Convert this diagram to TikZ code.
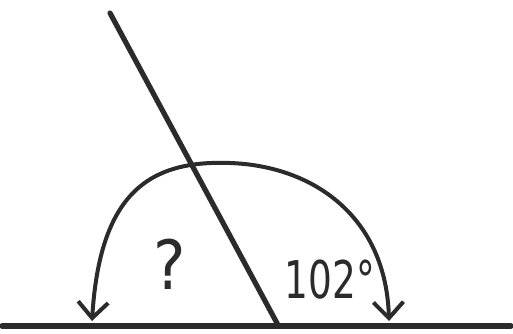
\documentclass[tikz,border=0pt]{standalone}
\usepackage{fontspec}
\setmainfont{DejaVu Sans}
\usetikzlibrary{arrows.meta}
\definecolor{pencil}{HTML}{2B2B2B}
\tikzset{
  ln/.style={pencil, line width=2.6pt, line cap=round},
  sw/.style={pencil, line width=2pt, {Straight Barb[length=8pt, width=15pt, line width=2pt]}-{Straight Barb[length=8pt, width=15pt, line width=2pt]}},
  lbl/.style={text=pencil, inner sep=0pt},
}
\begin{document}
\begin{tikzpicture}[x=0.5pt, y=-0.5pt]
    \useasboundingbox (0,0) rectangle (513,333);
    \coordinate (l) at (2,326);
    \coordinate (r) at (511,326);
    \coordinate (tp) at (110,13);
    \coordinate (ft) at (278,325);
    \coordinate (al) at (92,321);
    \coordinate (ar) at (389,321);
    \draw[ln] (l) -- (r);
    \draw[ln] (tp) -- (ft);
    \draw[sw] (al) .. controls (100,192) and (150,160) .. (230,163)
                   .. controls (315,166) and (386,218) .. (ar);
    \node[lbl, font=\fontsize{34}{34}\selectfont, xscale=0.9] (q) at (170,264) {?};
    \node[lbl, font=\fontsize{26}{26}\selectfont, xscale=0.72] (ang) at (330,280) {102°};
  \end{tikzpicture}
\end{document}
